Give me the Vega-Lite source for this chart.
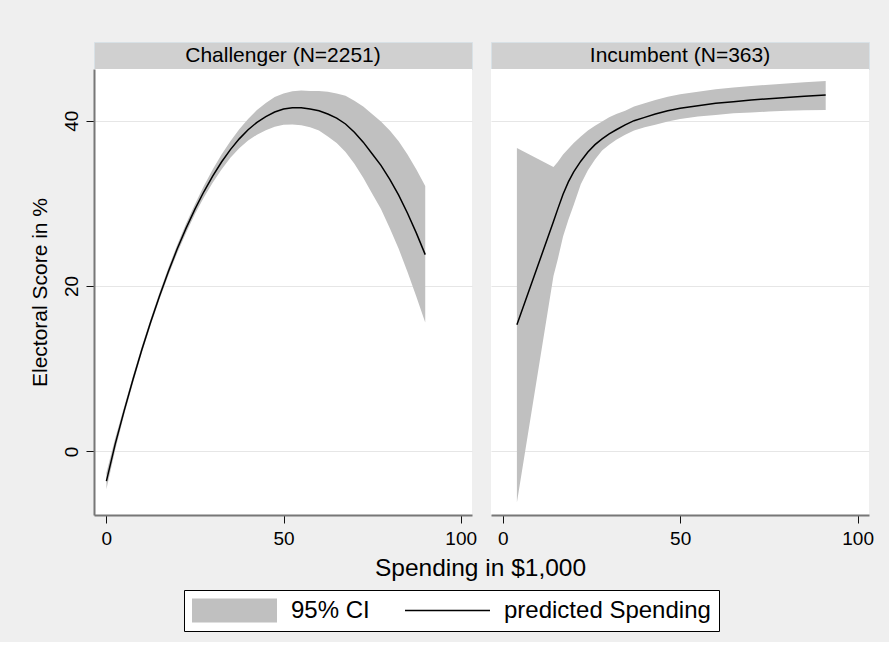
{
  "$schema": "https://vega.github.io/schema/vega-lite/v6.json",
  "background": "#efefef",
  "padding": {"left": 29, "top": 41, "right": 21, "bottom": 10},
  "config": {
    "font": "Liberation Sans",
    "view": {"stroke": null},
    "axis": {
      "domainColor": "#777777",
      "domainWidth": 2,
      "tickColor": "#111111",
      "tickSize": 8,
      "labelFont": "Liberation Sans",
      "labelFontSize": 19,
      "labelColor": "black",
      "titleFont": "Liberation Sans",
      "titleFontSize": 21,
      "titleFontWeight": "normal",
      "titleColor": "black",
      "gridColor": "#e6e6e6",
      "gridWidth": 1.2
    },
    "legend": {
      "orient": "bottom",
      "direction": "horizontal",
      "columns": 2,
      "strokeColor": "black",
      "fillColor": "white",
      "padding": 8,
      "cornerRadius": 0,
      "offset": 9,
      "labelFont": "Liberation Sans",
      "labelFontSize": 24,
      "labelColor": "black",
      "labelLimit": 400,
      "symbolType": "stroke",
      "symbolSize": 7225,
      "symbolOffset": -12,
      "clipHeight": 25,
      "labelOffset": 2,
      "columnPadding": 35,
      "layout": {"bottom": {"anchor": "middle"}}
    }
  },
  "datasets": {
    "ci": [
      {"group": "Challenger", "x": 0, "lo": -4.6, "hi": -2.6},
      {"group": "Challenger", "x": 2.5, "lo": 0.2, "hi": 1.6},
      {"group": "Challenger", "x": 5, "lo": 4.4, "hi": 5.4},
      {"group": "Challenger", "x": 7.5, "lo": 8.25, "hi": 9.15},
      {"group": "Challenger", "x": 10, "lo": 11.9, "hi": 12.7},
      {"group": "Challenger", "x": 12.5, "lo": 15.25, "hi": 16.05},
      {"group": "Challenger", "x": 15, "lo": 18.4, "hi": 19.2},
      {"group": "Challenger", "x": 17.5, "lo": 21.3, "hi": 22.2},
      {"group": "Challenger", "x": 20, "lo": 24.0, "hi": 25.0},
      {"group": "Challenger", "x": 22.5, "lo": 26.45, "hi": 27.55},
      {"group": "Challenger", "x": 25, "lo": 28.7, "hi": 29.9},
      {"group": "Challenger", "x": 27.5, "lo": 30.7, "hi": 32.1},
      {"group": "Challenger", "x": 30, "lo": 32.5, "hi": 34.1},
      {"group": "Challenger", "x": 32.5, "lo": 34.1, "hi": 35.9},
      {"group": "Challenger", "x": 35, "lo": 35.5, "hi": 37.5},
      {"group": "Challenger", "x": 37.5, "lo": 36.65, "hi": 38.95},
      {"group": "Challenger", "x": 40, "lo": 37.6, "hi": 40.2},
      {"group": "Challenger", "x": 42.5, "lo": 38.3, "hi": 41.3},
      {"group": "Challenger", "x": 45, "lo": 38.85, "hi": 42.15},
      {"group": "Challenger", "x": 47.5, "lo": 39.25, "hi": 42.85},
      {"group": "Challenger", "x": 50, "lo": 39.5, "hi": 43.3},
      {"group": "Challenger", "x": 52.5, "lo": 39.55, "hi": 43.55},
      {"group": "Challenger", "x": 55, "lo": 39.45, "hi": 43.65},
      {"group": "Challenger", "x": 57.5, "lo": 39.2, "hi": 43.6},
      {"group": "Challenger", "x": 60, "lo": 38.8, "hi": 43.6},
      {"group": "Challenger", "x": 62.5, "lo": 38.1, "hi": 43.5},
      {"group": "Challenger", "x": 65, "lo": 37.3, "hi": 43.3},
      {"group": "Challenger", "x": 67.5, "lo": 36.2, "hi": 43.0},
      {"group": "Challenger", "x": 70, "lo": 34.8, "hi": 42.4},
      {"group": "Challenger", "x": 72.5, "lo": 33.1, "hi": 41.7},
      {"group": "Challenger", "x": 75, "lo": 31.2, "hi": 40.8},
      {"group": "Challenger", "x": 77.5, "lo": 29.3, "hi": 39.9},
      {"group": "Challenger", "x": 80, "lo": 27.0, "hi": 38.8},
      {"group": "Challenger", "x": 82.5, "lo": 24.5, "hi": 37.5},
      {"group": "Challenger", "x": 85, "lo": 21.7, "hi": 35.9},
      {"group": "Challenger", "x": 87.5, "lo": 18.7, "hi": 34.1},
      {"group": "Challenger", "x": 90, "lo": 15.6, "hi": 32.1},
      {"group": "Incumbent", "x": 4, "lo": -6.2, "hi": 36.7},
      {"group": "Incumbent", "x": 14.3, "lo": 21.2, "hi": 34.4},
      {"group": "Incumbent", "x": 15.5, "lo": 23.2, "hi": 35.0},
      {"group": "Incumbent", "x": 17, "lo": 26.0, "hi": 35.9},
      {"group": "Incumbent", "x": 18.5, "lo": 28.0, "hi": 36.6},
      {"group": "Incumbent", "x": 20, "lo": 29.8, "hi": 37.3},
      {"group": "Incumbent", "x": 22, "lo": 32.3, "hi": 38.1},
      {"group": "Incumbent", "x": 24, "lo": 34.0, "hi": 38.8},
      {"group": "Incumbent", "x": 26, "lo": 35.3, "hi": 39.4},
      {"group": "Incumbent", "x": 28, "lo": 36.4, "hi": 39.9},
      {"group": "Incumbent", "x": 30, "lo": 37.1, "hi": 40.4},
      {"group": "Incumbent", "x": 32, "lo": 37.7, "hi": 40.8},
      {"group": "Incumbent", "x": 34.5, "lo": 38.3, "hi": 41.2},
      {"group": "Incumbent", "x": 37, "lo": 38.8, "hi": 41.7},
      {"group": "Incumbent", "x": 40, "lo": 39.2, "hi": 42.1},
      {"group": "Incumbent", "x": 43, "lo": 39.5, "hi": 42.5},
      {"group": "Incumbent", "x": 46.5, "lo": 39.9, "hi": 42.9},
      {"group": "Incumbent", "x": 50, "lo": 40.2, "hi": 43.2},
      {"group": "Incumbent", "x": 55, "lo": 40.5, "hi": 43.5},
      {"group": "Incumbent", "x": 60, "lo": 40.7, "hi": 43.8},
      {"group": "Incumbent", "x": 65, "lo": 40.9, "hi": 44.0},
      {"group": "Incumbent", "x": 70, "lo": 41.0, "hi": 44.2},
      {"group": "Incumbent", "x": 75, "lo": 41.1, "hi": 44.35},
      {"group": "Incumbent", "x": 80, "lo": 41.2, "hi": 44.5},
      {"group": "Incumbent", "x": 85, "lo": 41.25, "hi": 44.65},
      {"group": "Incumbent", "x": 91, "lo": 41.3, "hi": 44.8}
    ],
    "fit": [
      {"group": "Challenger", "series": "predicted Spending", "x": 0, "fit": -3.6},
      {"group": "Challenger", "series": "predicted Spending", "x": 2.5, "fit": 0.9},
      {"group": "Challenger", "series": "predicted Spending", "x": 5, "fit": 4.9},
      {"group": "Challenger", "series": "predicted Spending", "x": 7.5, "fit": 8.7},
      {"group": "Challenger", "series": "predicted Spending", "x": 10, "fit": 12.3},
      {"group": "Challenger", "series": "predicted Spending", "x": 12.5, "fit": 15.65},
      {"group": "Challenger", "series": "predicted Spending", "x": 15, "fit": 18.8},
      {"group": "Challenger", "series": "predicted Spending", "x": 17.5, "fit": 21.75},
      {"group": "Challenger", "series": "predicted Spending", "x": 20, "fit": 24.5},
      {"group": "Challenger", "series": "predicted Spending", "x": 22.5, "fit": 27.0},
      {"group": "Challenger", "series": "predicted Spending", "x": 25, "fit": 29.3},
      {"group": "Challenger", "series": "predicted Spending", "x": 27.5, "fit": 31.4},
      {"group": "Challenger", "series": "predicted Spending", "x": 30, "fit": 33.3},
      {"group": "Challenger", "series": "predicted Spending", "x": 32.5, "fit": 35.0},
      {"group": "Challenger", "series": "predicted Spending", "x": 35, "fit": 36.5},
      {"group": "Challenger", "series": "predicted Spending", "x": 37.5, "fit": 37.8},
      {"group": "Challenger", "series": "predicted Spending", "x": 40, "fit": 38.9},
      {"group": "Challenger", "series": "predicted Spending", "x": 42.5, "fit": 39.8},
      {"group": "Challenger", "series": "predicted Spending", "x": 45, "fit": 40.5},
      {"group": "Challenger", "series": "predicted Spending", "x": 47.5, "fit": 41.05},
      {"group": "Challenger", "series": "predicted Spending", "x": 50, "fit": 41.4},
      {"group": "Challenger", "series": "predicted Spending", "x": 52.5, "fit": 41.55},
      {"group": "Challenger", "series": "predicted Spending", "x": 55, "fit": 41.55},
      {"group": "Challenger", "series": "predicted Spending", "x": 57.5, "fit": 41.4},
      {"group": "Challenger", "series": "predicted Spending", "x": 60, "fit": 41.2},
      {"group": "Challenger", "series": "predicted Spending", "x": 62.5, "fit": 40.8},
      {"group": "Challenger", "series": "predicted Spending", "x": 65, "fit": 40.3},
      {"group": "Challenger", "series": "predicted Spending", "x": 67.5, "fit": 39.6},
      {"group": "Challenger", "series": "predicted Spending", "x": 70, "fit": 38.6},
      {"group": "Challenger", "series": "predicted Spending", "x": 72.5, "fit": 37.4},
      {"group": "Challenger", "series": "predicted Spending", "x": 75, "fit": 36.0},
      {"group": "Challenger", "series": "predicted Spending", "x": 77.5, "fit": 34.6},
      {"group": "Challenger", "series": "predicted Spending", "x": 80, "fit": 32.9},
      {"group": "Challenger", "series": "predicted Spending", "x": 82.5, "fit": 31.0},
      {"group": "Challenger", "series": "predicted Spending", "x": 85, "fit": 28.8},
      {"group": "Challenger", "series": "predicted Spending", "x": 87.5, "fit": 26.4},
      {"group": "Challenger", "series": "predicted Spending", "x": 90, "fit": 23.8},
      {"group": "Incumbent", "series": "predicted Spending", "x": 4, "fit": 15.3},
      {"group": "Incumbent", "series": "predicted Spending", "x": 14.3, "fit": 27.8},
      {"group": "Incumbent", "series": "predicted Spending", "x": 15.5, "fit": 29.3},
      {"group": "Incumbent", "series": "predicted Spending", "x": 17, "fit": 31.1},
      {"group": "Incumbent", "series": "predicted Spending", "x": 18.5, "fit": 32.6},
      {"group": "Incumbent", "series": "predicted Spending", "x": 20, "fit": 33.8},
      {"group": "Incumbent", "series": "predicted Spending", "x": 22, "fit": 35.1},
      {"group": "Incumbent", "series": "predicted Spending", "x": 24, "fit": 36.2},
      {"group": "Incumbent", "series": "predicted Spending", "x": 26, "fit": 37.1},
      {"group": "Incumbent", "series": "predicted Spending", "x": 28, "fit": 37.8},
      {"group": "Incumbent", "series": "predicted Spending", "x": 30, "fit": 38.4},
      {"group": "Incumbent", "series": "predicted Spending", "x": 32, "fit": 38.9},
      {"group": "Incumbent", "series": "predicted Spending", "x": 34.5, "fit": 39.5},
      {"group": "Incumbent", "series": "predicted Spending", "x": 37, "fit": 40.0},
      {"group": "Incumbent", "series": "predicted Spending", "x": 40, "fit": 40.4},
      {"group": "Incumbent", "series": "predicted Spending", "x": 43, "fit": 40.8},
      {"group": "Incumbent", "series": "predicted Spending", "x": 46.5, "fit": 41.2},
      {"group": "Incumbent", "series": "predicted Spending", "x": 50, "fit": 41.5},
      {"group": "Incumbent", "series": "predicted Spending", "x": 55, "fit": 41.8},
      {"group": "Incumbent", "series": "predicted Spending", "x": 60, "fit": 42.1},
      {"group": "Incumbent", "series": "predicted Spending", "x": 65, "fit": 42.3},
      {"group": "Incumbent", "series": "predicted Spending", "x": 70, "fit": 42.5},
      {"group": "Incumbent", "series": "predicted Spending", "x": 75, "fit": 42.65},
      {"group": "Incumbent", "series": "predicted Spending", "x": 80, "fit": 42.8},
      {"group": "Incumbent", "series": "predicted Spending", "x": 85, "fit": 42.95},
      {"group": "Incumbent", "series": "predicted Spending", "x": 91, "fit": 43.1}
    ]
  },
  "vconcat": [
    {
      "hconcat": [
        {
          "vconcat": [
            {
              "width": 378,
              "height": 27,
              "data": {"values": [{"label": "Challenger (N=2251)"}]},
              "mark": {"type": "text", "fontSize": 21, "color": "black", "font": "Liberation Sans"},
              "encoding": {"text": {"field": "label"}},
              "view": {"fill": "#d0d0d0", "stroke": "#d8e1e6"}
            },
            {
              "width": 378,
              "height": 446,
              "view": {"fill": "white", "stroke": null},
              "layer": [
                {
                  "data": {"name": "ci"},
                  "transform": [{"filter": "datum.group === 'Challenger'"}],
                  "mark": {"type": "area", "color": "#c0c0c0", "opacity": 1},
                  "encoding": {
                    "x": {
                      "field": "x",
                      "type": "quantitative",
                      "scale": {"domain": [-3.5, 103.2], "nice": false, "zero": false},
                      "axis": {"values": [0, 50, 100], "grid": false, "title": null, "labelPadding": 6}
                    },
                    "y": {
                      "field": "lo",
                      "type": "quantitative",
                      "scale": {"domain": [-7.7, 46.25], "nice": false, "zero": false},
                      "axis": {
                        "values": [0, 20, 40],
                        "grid": true,
                        "labelAngle": -90,
                        "labelPadding": 5,
                        "title": "Electoral Score in %",
                        "titlePadding": 12
                      }
                    },
                    "y2": {"field": "hi"}
                  }
                },
                {
                  "data": {"name": "fit"},
                  "transform": [{"filter": "datum.group === 'Challenger'"}],
                  "mark": {"type": "line"},
                  "encoding": {
                    "x": {"field": "x", "type": "quantitative"},
                    "y": {"field": "fit", "type": "quantitative"},
                    "stroke": {
                      "field": "series",
                      "type": "nominal",
                      "scale": {"domain": ["95% CI", "predicted Spending"], "range": ["#c0c0c0", "black"]},
                      "legend": {"title": null, "symbolType": "stroke"}
                    },
                    "strokeWidth": {
                      "field": "series",
                      "type": "nominal",
                      "scale": {"type": "point", "padding": 0, "domain": ["95% CI", "predicted Spending"], "range": [24, 1.5]},
                      "legend": {"title": null, "symbolType": "stroke"}
                    }
                  }
                }
              ]
            }
          ],
          "spacing": 0,
          "bounds": "flush"
        },
        {
          "vconcat": [
            {
              "width": 378,
              "height": 27,
              "data": {"values": [{"label": "Incumbent (N=363)"}]},
              "mark": {"type": "text", "fontSize": 21, "color": "black", "font": "Liberation Sans"},
              "encoding": {"text": {"field": "label"}},
              "view": {"fill": "#d0d0d0", "stroke": "#d8e1e6"}
            },
            {
              "width": 378,
              "height": 446,
              "view": {"fill": "white", "stroke": null},
              "layer": [
                {
                  "data": {"name": "ci"},
                  "transform": [{"filter": "datum.group === 'Incumbent'"}],
                  "mark": {"type": "area", "color": "#c0c0c0", "opacity": 1},
                  "encoding": {
                    "x": {
                      "field": "x",
                      "type": "quantitative",
                      "scale": {"domain": [-3.3, 103.2], "nice": false, "zero": false},
                      "axis": {"values": [0, 50, 100], "grid": false, "title": null, "labelPadding": 6}
                    },
                    "y": {
                      "field": "lo",
                      "type": "quantitative",
                      "scale": {"domain": [-7.7, 46.25], "nice": false, "zero": false},
                      "axis": {
                        "values": [0, 20, 40],
                        "grid": true,
                        "labels": false,
                        "ticks": false,
                        "domain": false,
                        "title": null
                      }
                    },
                    "y2": {"field": "hi"}
                  }
                },
                {
                  "data": {"name": "fit"},
                  "transform": [{"filter": "datum.group === 'Incumbent'"}],
                  "mark": {"type": "line"},
                  "encoding": {
                    "x": {"field": "x", "type": "quantitative"},
                    "y": {"field": "fit", "type": "quantitative"},
                    "stroke": {"field": "series", "type": "nominal", "legend": {"title": null, "symbolType": "stroke"}},
                    "strokeWidth": {"field": "series", "type": "nominal", "legend": {"title": null, "symbolType": "stroke"}}
                  }
                }
              ]
            }
          ],
          "spacing": 0,
          "bounds": "flush"
        }
      ],
      "spacing": 13
    },
    {
      "width": 773,
      "height": 22,
      "data": {"values": [{"t": "Spending in $1,000"}]},
      "mark": {"type": "text", "fontSize": 24.5, "color": "black", "font": "Liberation Sans"},
      "encoding": {"text": {"field": "t"}},
      "view": {"stroke": null}
    }
  ],
  "spacing": 8
}
